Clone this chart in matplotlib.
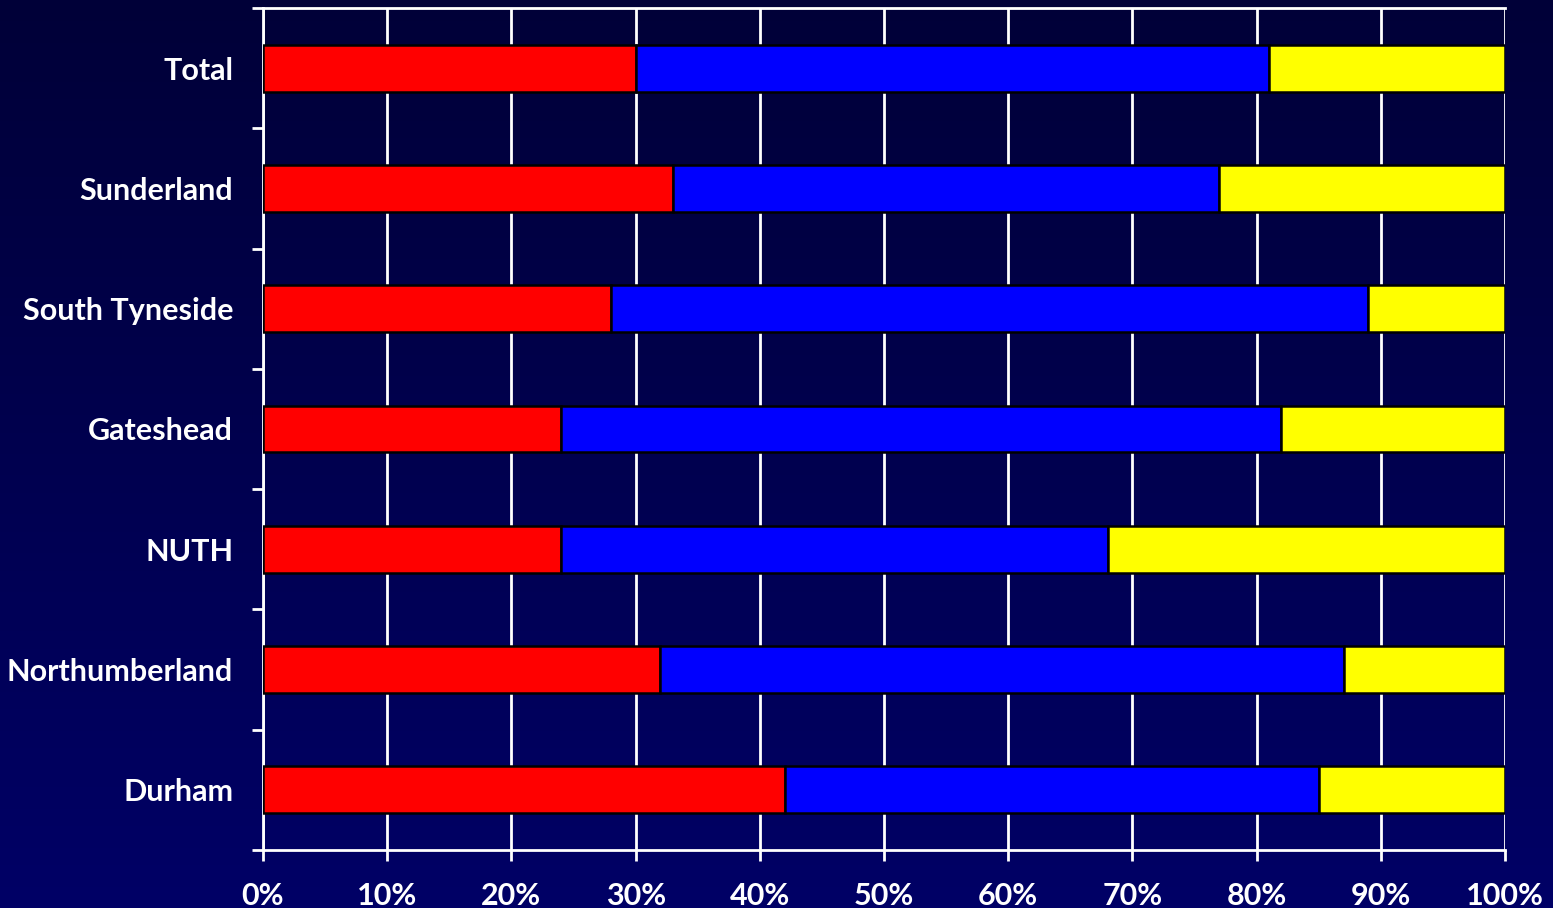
import numpy as np
import matplotlib
matplotlib.use("Agg")
import matplotlib.pyplot as plt
from matplotlib.ticker import FixedLocator, PercentFormatter

# categories listed bottom to top
sites = ["Durham", "Northumberland", "NUTH", "Gateshead", "South Tyneside", "Sunderland", "Total"]
red_pct = [42, 32, 24, 24, 28, 33, 30]
blue_pct = [43, 55, 44, 58, 61, 44, 51]
yellow_pct = [15, 13, 32, 18, 11, 23, 19]

plt.rcParams['font.family'] = ['Lato', 'DejaVu Sans']
plt.rcParams['font.weight'] = 'bold'

fig = plt.figure(figsize=(15.53, 9.08), dpi=100)

# dark navy gradient background
bg = fig.add_axes([0, 0, 1, 1], zorder=-10)
grad = np.linspace(0, 1, 256).reshape(-1, 1)
top = np.array([0x00, 0x00, 0x38]) / 255
bottom = np.array([0x00, 0x00, 0x66]) / 255
img = top + (bottom - top) * grad[:, :, None]
bg.imshow(img, aspect='auto', extent=[0, 1, 0, 1], origin='upper')
bg.axis('off')

ax = fig.add_axes([263 / 1553, 1 - 850 / 908, (1505 - 263) / 1553, (850 - 8) / 908])
ax.patch.set_alpha(0)

y = np.arange(len(sites))
h = 0.39
red = np.array(red_pct)
blue = np.array(blue_pct)
yellow = np.array(yellow_pct)
ax.barh(y, red, height=h, color='#ff0000', edgecolor='black', linewidth=1.8, zorder=3)
ax.barh(y, blue, left=red, height=h, color='#0000ff', edgecolor='black', linewidth=1.8, zorder=3)
ax.barh(y, yellow, left=red + blue, height=h, color='#ffff00', edgecolor='black', linewidth=1.8, zorder=3)

ax.set_xlim(0, 100)
ax.set_ylim(-0.5, len(sites) - 0.5)
ax.set_xticks(np.arange(0, 101, 10))
ax.xaxis.set_major_formatter(PercentFormatter(decimals=0))
ax.grid(axis='x', color='white', linewidth=2, zorder=0)

ax.set_yticks(y)
ax.set_yticklabels(sites)
ax.yaxis.set_minor_locator(FixedLocator(np.arange(-0.5, len(sites), 1)))
ax.tick_params(axis='y', which='major', length=0, pad=21.5, labelsize=22, labelcolor='white')
ax.tick_params(axis='y', which='minor', length=8, width=2, color='white', direction='out')
ax.tick_params(axis='x', length=8, width=2, color='white', direction='out', pad=15,
               labelsize=22, labelcolor='white')

for side in ['left', 'bottom', 'top']:
    ax.spines[side].set_color('white')
    ax.spines[side].set_linewidth(2)
ax.spines['right'].set_visible(False)

fig.savefig("out.png", dpi=100, facecolor='#000040')
